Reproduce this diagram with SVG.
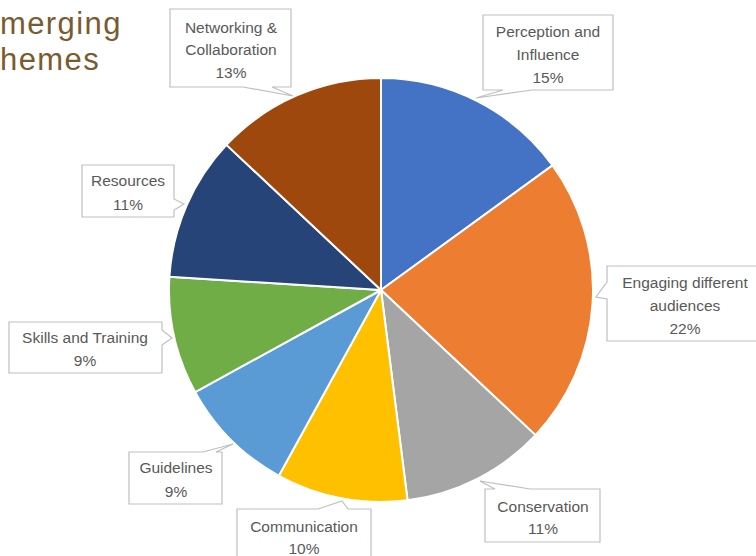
<svg xmlns="http://www.w3.org/2000/svg" width="756" height="556" viewBox="0 0 756 556">
<style>
.title{font-family:"Liberation Sans",Arial,sans-serif;font-size:31px;letter-spacing:1.4px;fill:#7a5a2f}
.slice{stroke:#ffffff;stroke-width:2;stroke-linejoin:round}
.callout{fill:#ffffff;stroke:#bfbfbf;stroke-width:1.2}
.lbl{font-family:"Liberation Sans",Arial,sans-serif;font-size:15.5px;fill:#595959;text-anchor:middle}
</style>
<rect width="756" height="556" fill="#ffffff"/>
<g id="title">
<text class="title" x="0" y="34">merging</text>
<text class="title" x="0" y="70">hemes</text>
</g>
<g id="pie">
<path id="slice-perception" class="slice" fill="#4472C4" d="M381,290 L381,78 A212,212 0 0 1 552.51,165.39 Z"/>
<path id="slice-engaging" class="slice" fill="#ED7D31" d="M381,290 L552.51,165.39 A212,212 0 0 1 535.54,435.12 Z"/>
<path id="slice-conservation" class="slice" fill="#A5A5A5" d="M381,290 L535.54,435.12 A212,212 0 0 1 407.57,500.33 Z"/>
<path id="slice-communication" class="slice" fill="#FFC000" d="M381,290 L407.57,500.33 A212,212 0 0 1 278.87,475.78 Z"/>
<path id="slice-guidelines" class="slice" fill="#5B9BD5" d="M381,290 L278.87,475.78 A212,212 0 0 1 195.22,392.13 Z"/>
<path id="slice-skills" class="slice" fill="#70AD47" d="M381,290 L195.22,392.13 A212,212 0 0 1 169.42,276.69 Z"/>
<path id="slice-resources" class="slice" fill="#264478" d="M381,290 L169.42,276.69 A212,212 0 0 1 226.46,144.88 Z"/>
<path id="slice-networking" class="slice" fill="#9E480E" d="M381,290 L226.46,144.88 A212,212 0 0 1 381,78 Z"/>
</g>
<g id="connectors">
<path class="callout" d="M170,9 H291 V87 H272 L293,96 L243,87 H170 Z"/>
<path class="callout" d="M483,15 H613 V90 H532 L476,98 L503,90 H483 Z"/>
<path class="callout" d="M607,266 H766 V341 H607 V299 L596,297 L607,282 Z"/>
<path class="callout" d="M82,165 H174 V199 L184,204 L174,210 V217 H82 Z"/>
<path class="callout" d="M9,322 H162 V330 L172,338 L162,345 V373 H9 Z"/>
<path class="callout" d="M129,452 H203 L233,444 L216,452 H222 V504 H129 Z"/>
<path class="callout" d="M237,509 H318 L342,501 L348,509 H371 V560 H237 Z"/>
<path class="callout" d="M485,489 H495 L480,481 L530,489 H600 V542 H485 Z"/>
</g>
<g id="label-networking">
<text class="lbl" x="231" y="32.5">Networking &amp;</text>
<text class="lbl" x="231" y="55">Collaboration</text>
<text class="lbl" x="231" y="77.5">13%</text>
</g>
<g id="label-perception">
<text class="lbl" x="548" y="37">Perception and</text>
<text class="lbl" x="548" y="60">Influence</text>
<text class="lbl" x="548" y="83">15%</text>
</g>
<g id="label-engaging">
<text class="lbl" x="685" y="288">Engaging different</text>
<text class="lbl" x="685" y="311">audiences</text>
<text class="lbl" x="685" y="334">22%</text>
</g>
<g id="label-resources">
<text class="lbl" x="128" y="186">Resources</text>
<text class="lbl" x="128" y="210">11%</text>
</g>
<g id="label-skills">
<text class="lbl" x="85" y="343">Skills and Training</text>
<text class="lbl" x="85" y="366">9%</text>
</g>
<g id="label-guidelines">
<text class="lbl" x="176" y="473">Guidelines</text>
<text class="lbl" x="176" y="497">9%</text>
</g>
<g id="label-communication">
<text class="lbl" x="304" y="532">Communication</text>
<text class="lbl" x="304" y="554">10%</text>
</g>
<g id="label-conservation">
<text class="lbl" x="543" y="512">Conservation</text>
<text class="lbl" x="543" y="534">11%</text>
</g>
</svg>
